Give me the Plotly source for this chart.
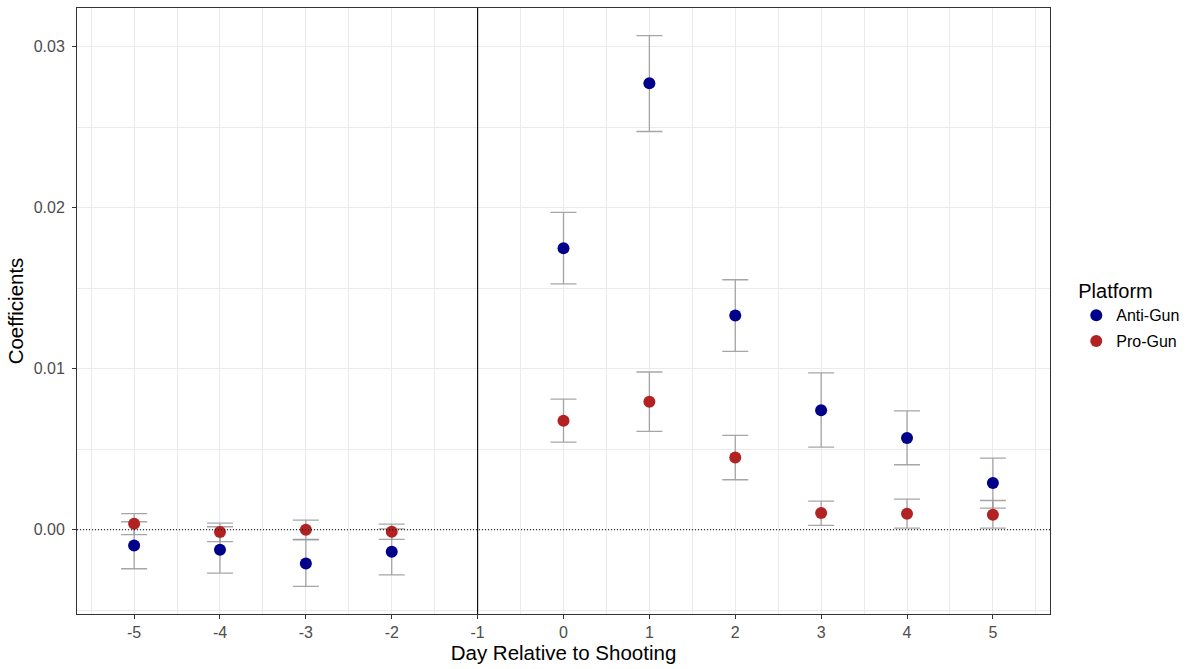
import plotly.graph_objects as go

# Event-study coefficients by day relative to the shooting
days = [-5, -4, -3, -2, 0, 1, 2, 3, 4, 5]

anti_coef = [-0.00098, -0.00124, -0.00209, -0.00137, 0.01749, 0.02774, 0.01331, 0.00743, 0.00570, 0.00290]
anti_lo = [-0.00242, -0.00269, -0.00352, -0.00280, 0.01528, 0.02474, 0.01108, 0.00514, 0.00404, 0.00135]
anti_hi = [0.00050, 0.00019, -0.00062, 0.00006, 0.01971, 0.03070, 0.01553, 0.00975, 0.00739, 0.00445]

pro_coef = [0.00037, -0.00014, 0.00000, -0.00012, 0.00677, 0.00795, 0.00449, 0.00104, 0.00099, 0.00093]
pro_lo = [-0.00030, -0.00073, -0.00059, -0.00060, 0.00545, 0.00611, 0.00311, 0.00027, 0.00010, 0.00010]
pro_hi = [0.00100, 0.00042, 0.00060, 0.00035, 0.00812, 0.00980, 0.00586, 0.00178, 0.00191, 0.00182]

series = [
    ("Anti-Gun", "#00008B", anti_coef, anti_lo, anti_hi),
    ("Pro-Gun", "#B22222", pro_coef, pro_lo, pro_hi),
]

fig = go.Figure()
for name, color, coef, lo, hi in series:
    fig.add_trace(go.Scatter(
        x=days, y=coef, mode="markers", name=name, legendgroup=name,
        marker=dict(color=color, size=12),
        error_y=dict(
            type="data", symmetric=False,
            array=[h - c for h, c in zip(hi, coef)],
            arrayminus=[c - l for c, l in zip(coef, lo)],
            color="rgba(150,150,150,0.85)", thickness=1.3, width=13,
        ),
    ))

font_family = "Liberation Sans, Arial, sans-serif"

fig.update_layout(
    width=1189, height=669,
    margin=dict(l=77, r=139, t=8, b=55, autoexpand=False),
    plot_bgcolor="white", paper_bgcolor="white",
    font=dict(family=font_family, color="#000000"),
    legend=dict(
        title=dict(text="Platform", font=dict(size=20, color="#000000")),
        font=dict(size=16, color="#000000"),
        x=1.027, xanchor="left", y=0.493, yanchor="middle",
        bgcolor="rgba(0,0,0,0)", itemsizing="constant",
        traceorder="grouped", tracegroupgap=2,
    ),
    xaxis=dict(
        range=[-5.665, 5.665],
        tickmode="array", tickvals=list(range(-5, 6)),
        ticktext=[str(v) for v in range(-5, 6)],
        showgrid=True, gridcolor="#EBEBEB", gridwidth=1,
        minor=dict(dtick=0.5, tick0=-5.5, showgrid=True, gridcolor="#EBEBEB", gridwidth=0.5),
        ticks="outside", ticklen=4, tickcolor="#333333",
        tickfont=dict(size=16, color="#4D4D4D"),
        title=dict(text="Day Relative to Shooting", font=dict(size=20.5), standoff=2),
        showline=True, linecolor="#333333", linewidth=1, mirror=True,
        zeroline=False,
    ),
    yaxis=dict(
        range=[-0.00523, 0.03241],
        tickmode="array", tickvals=[0.0, 0.01, 0.02, 0.03],
        ticktext=["0.00", "0.01", "0.02", "0.03"],
        showgrid=True, gridcolor="#EBEBEB", gridwidth=1,
        minor=dict(dtick=0.005, tick0=-0.005, showgrid=True, gridcolor="#EBEBEB", gridwidth=0.5),
        ticks="outside", ticklen=4, tickcolor="#333333",
        tickfont=dict(size=16, color="#4D4D4D"),
        ticklabelstandoff=4,
        title=dict(text="Coefficients", font=dict(size=20.5), standoff=4),
        showline=True, linecolor="#333333", linewidth=1, mirror=True,
        zeroline=False,
    ),
)

# Reference lines: event day boundary and zero effect
fig.add_vline(x=-1, line=dict(color="#000000", width=1.1), layer="above")
fig.add_hline(y=0, line=dict(color="#000000", width=1.1, dash="1px,2px"), layer="above")

fig.write_html("out.html")
